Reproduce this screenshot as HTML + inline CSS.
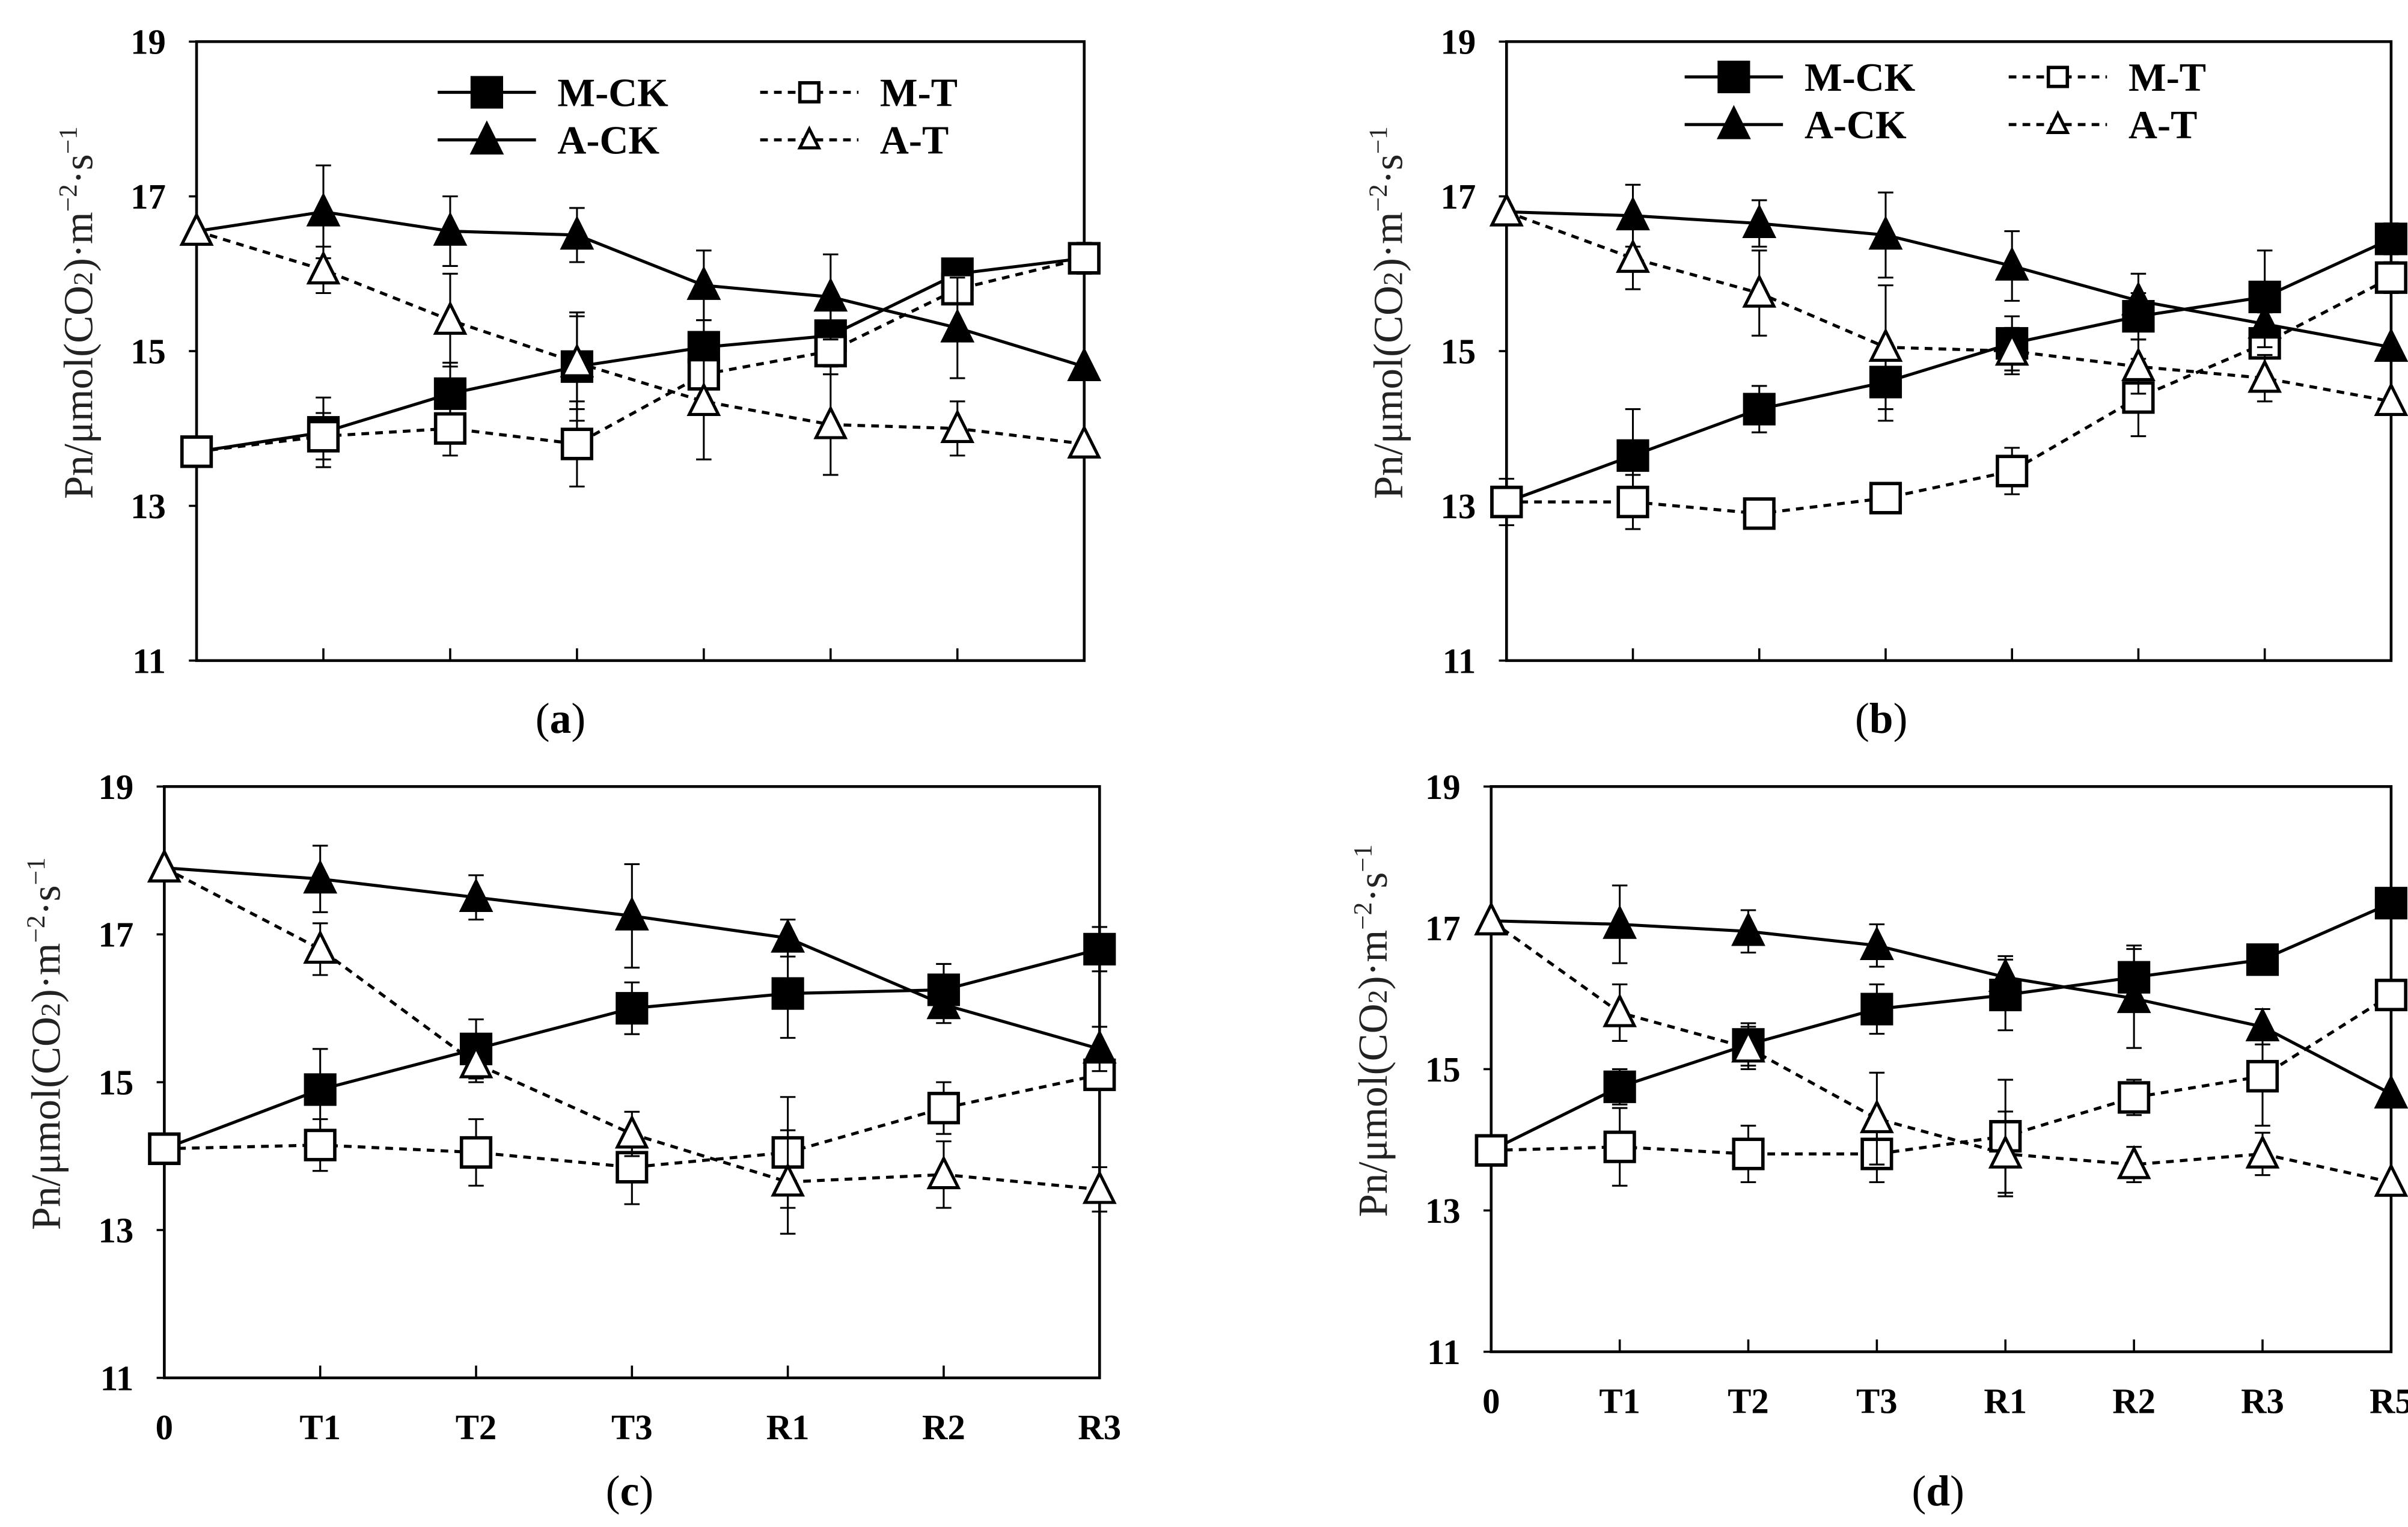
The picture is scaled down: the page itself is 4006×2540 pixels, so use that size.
<!DOCTYPE html>
<html><head><meta charset="utf-8">
<style>html,body{margin:0;padding:0;background:#fff}svg{display:block}</style>
</head><body>
<svg id="fig" xmlns="http://www.w3.org/2000/svg" width="4006" height="2540" viewBox="0 0 1568 994" font-family="'Liberation Serif', serif">
</svg>
<script>
const yTicks = [11, 13, 15, 17, 19];
const catsA = ["", "", "", "", "", "", "", ""];
const catsB = ["", "", "", "", "", "", "", ""];
const catsC = ["0", "T1", "T2", "T3", "R1", "R2", "R3"];
const catsD = ["0", "T1", "T2", "T3", "R1", "R2", "R3", "R5"];

const aMCK = [13.7, 13.95, 14.45, 14.8, 15.05, 15.2, 16.0, 16.2];
const aMT  = [13.7, 13.9, 14.0, 13.8, 14.7, 15.0, 15.8, 16.2];
const aACK = [16.55, 16.8, 16.55, 16.5, 15.85, 15.7, 15.3, 14.8];
const aAT  = [16.55, 16.05, 15.4, 14.85, 14.35, 14.05, 14.0, 13.8];
const aMCKe = [0, 0.45, 0.4, 0.7, 0.35, 0.4, 0.15, 0.2];
const aMTe  = [0, 0.3, 0.35, 0.55, 0.4, 0.3, 0.15, 0.15];
const aACKe = [0, 0.6, 0.45, 0.35, 0.45, 0.55, 0.65, 0];
const aATe  = [0, 0.3, 0.6, 0.6, 0.75, 0.65, 0.35, 0];

const bMCK = [13.05, 13.65, 14.25, 14.6, 15.1, 15.45, 15.7, 16.45];
const bMT  = [13.05, 13.05, 12.9, 13.1, 13.45, 14.4, 15.1, 15.95];
const bACK = [16.8, 16.75, 16.65, 16.5, 16.1, 15.65, 15.35, 15.05];
const bAT  = [16.8, 16.2, 15.75, 15.05, 15.0, 14.8, 14.65, 14.35];
const bMCKe = [0.3, 0.6, 0.3, 0.5, 0.35, 0.3, 0.6, 0.2];
const bMTe  = [0, 0.35, 0.15, 0.15, 0.3, 0.5, 0.4, 0.2];
const bACKe = [0, 0.4, 0.3, 0.55, 0.45, 0.35, 0.3, 0];
const bATe  = [0, 0.4, 0.55, 0.8, 0.3, 0.35, 0.3, 0];

const cMCK = [14.1, 14.9, 15.45, 16.0, 16.2, 16.25, 16.8];
const cMT  = [14.1, 14.15, 14.05, 13.85, 14.05, 14.65, 15.1];
const cACK = [17.9, 17.75, 17.5, 17.25, 16.95, 16.05, 15.45];
const cAT  = [17.9, 16.8, 15.25, 14.3, 13.65, 13.75, 13.55];
const cMCKe = [0, 0.55, 0.4, 0.35, 0.6, 0.35, 0.3];
const cMTe  = [0, 0.35, 0.45, 0.5, 0.75, 0.35, 0.2];
const cACKe = [0, 0.45, 0.3, 0.7, 0.25, 0.25, 0.3];
const cATe  = [0, 0.35, 0.25, 0.3, 0.7, 0.45, 0.3];

const dMCK = [13.85, 14.75, 15.35, 15.85, 16.05, 16.3, 16.55, 17.35];
const dMT  = [13.85, 13.9, 13.8, 13.8, 14.05, 14.6, 14.9, 16.05];
const dACK = [17.1, 17.05, 16.95, 16.75, 16.3, 16.0, 15.6, 14.65];
const dAT  = [17.1, 15.8, 15.3, 14.3, 13.8, 13.65, 13.8, 13.4];
const dMCKe = [0, 0.25, 0.3, 0.35, 0.5, 0.45, 0.1, 0.1];
const dMTe  = [0, 0.55, 0.4, 0.4, 0.8, 0.25, 0.7, 0.2];
const dACKe = [0, 0.55, 0.3, 0.3, 0.3, 0.7, 0.25, 0];
const dATe  = [0, 0.4, 0.3, 0.65, 0.6, 0.25, 0.3, 0];

const NS = "http://www.w3.org/2000/svg";
const svg = document.getElementById('fig');
function mk(tag, attrs, parent) {
  const e = document.createElementNS(NS, tag);
  for (const k in attrs) e.setAttribute(k, attrs[k]);
  (parent || svg).appendChild(e);
  return e;
}

function marker(g, type, x, y, sc) {
  const s = 9.5 * (sc || 1);
  let e;
  if (type === 'sqF' || type === 'sqO') {
    e = mk('rect', {x: x - s, y: y - s, width: 2 * s, height: 2 * s,
      fill: type === 'sqF' ? '#000' : '#fff', stroke: '#000', 'stroke-width': 2.2}, g);
  } else {
    e = mk('polygon', {points: `${x},${y - s - 1} ${x - s},${y + s - 1} ${x + s},${y + s - 1}`,
      fill: type === 'triF' ? '#000' : '#fff', stroke: '#000', 'stroke-width': 2}, g);
  }
  return e;
}

function panel(cfg) {
  const g = mk('g', {});
  
  
  const {L, R, T, B, cats} = cfg;
  const n = cats.length;
  const xs = i => L + (R - L) * i / (n - 1);
  const ys = v => B - (v - 11) / 8 * (B - T);

  const frame = mk('rect', {x: L, y: T, width: R - L, height: B - T, fill: 'none', stroke: '#000', 'stroke-width': 1.8}, g);
  
  

  yTicks.forEach(v => {
    mk('line', {x1: L - 5, x2: L, y1: ys(v), y2: ys(v), stroke: '#000', 'stroke-width': 1.4}, g);
    const t = mk('text', {x: L - 20, y: ys(v) + 8, 'font-size': 23, 'font-weight': 'bold', 'text-anchor': 'end'}, g);
    t.textContent = v;
    
    
  });
  cats.forEach((c, i) => {
    if (i > 0 && i < n - 1) mk('line', {x1: xs(i), x2: xs(i), y1: B, y2: B - 8, stroke: '#000', 'stroke-width': 1.4}, g);
    if (c) {
      const t = mk('text', {x: xs(i), y: B + 40, 'font-size': 23, 'font-weight': 'bold', 'text-anchor': 'middle'}, g);
      t.textContent = c;
      
      
    }
  });

  const yt = mk('text', {transform: `translate(${L - 68},${(T + B) / 2 - 25}) rotate(-90)`, 'font-size': 27, 'text-anchor': 'middle', fill: '#222'}, g);
  yt.innerHTML = 'Pn/μmol(CO<tspan font-size="18">2</tspan>)·m<tspan dy="-10" font-size="17">−2</tspan><tspan dy="10">·s</tspan><tspan dy="-10" font-size="17">−1</tspan>';
  
  

  const pl = mk('text', {x: cfg.lx, y: cfg.ly, 'font-size': 28, 'text-anchor': 'middle'}, g);
  pl.innerHTML = '(<tspan font-weight="bold">' + cfg.id + '</tspan>)';
  
  

  const series = [
    {name: 'm-ck', v: cfg.mck, e: cfg.mcke, m: 'sqF', dash: ''},
    {name: 'm-t', v: cfg.mt, e: cfg.mte, m: 'sqO', dash: '5,4'},
    {name: 'a-ck', v: cfg.ack, e: cfg.acke, m: 'triF', dash: ''},
    {name: 'a-t', v: cfg.at, e: cfg.ate, m: 'triO', dash: '5,4'}
  ];
  series.forEach(s => {
    const sg = mk('g', {}, g);
    
    
    s.v.forEach((v, i) => {
      if (s.e[i] > 0) {
        const x = xs(i), y1 = ys(v + s.e[i]), y2 = ys(v - s.e[i]);
        mk('line', {x1: x, x2: x, y1: y1, y2: y2, stroke: '#000', 'stroke-width': 1.2}, sg);
        mk('line', {x1: x - 5, x2: x + 5, y1: y1, y2: y1, stroke: '#000', 'stroke-width': 1.2}, sg);
        mk('line', {x1: x - 5, x2: x + 5, y1: y2, y2: y2, stroke: '#000', 'stroke-width': 1.2}, sg);
      }
    });
    const pts = s.v.map((v, i) => xs(i) + ',' + ys(v)).join(' ');
    const line = mk('polyline', {points: pts, fill: 'none', stroke: '#000', 'stroke-width': 2, 'stroke-dasharray': s.dash}, sg);
    
    
    s.v.forEach((v, i) => {
      const mkr = marker(sg, s.m, xs(i), ys(v));
      
      
    });
  });

  if (cfg.legend) {
    const lg = mk('g', {}, g);
    
    
    const items = [
      {t: 'M-CK', m: 'sqF', d: '', x: cfg.legend[0], y: cfg.legend[2]},
      {t: 'M-T', m: 'sqO', d: '5,4', x: cfg.legend[1], y: cfg.legend[2]},
      {t: 'A-CK', m: 'triF', d: '', x: cfg.legend[0], y: cfg.legend[2] + 31},
      {t: 'A-T', m: 'triO', d: '5,4', x: cfg.legend[1], y: cfg.legend[2] + 31}
    ];
    items.forEach(it => {
      const ig = mk('g', {}, lg);
      
      
      mk('line', {x1: it.x, x2: it.x + 64, y1: it.y, y2: it.y, stroke: '#000', 'stroke-width': 2, 'stroke-dasharray': it.d}, ig);
      marker(ig, it.m, it.x + 32, it.y, (it.m === 'sqO' || it.m === 'triO') ? 0.65 : 1);
      const t = mk('text', {x: it.x + 78, y: it.y + 9, 'font-size': 26, 'font-weight': 'bold'}, ig);
      t.textContent = it.t;
    });
  }
}

panel({id: 'a', L: 128, R: 706, T: 27, B: 430, cats: catsA, lx: 365, ly: 477,
  mck: aMCK, mt: aMT, ack: aACK, at: aAT, mcke: aMCKe, mte: aMTe, acke: aACKe, ate: aATe, legend: [285, 495, 60]});
panel({id: 'b', L: 981, R: 1557, T: 27, B: 430, cats: catsB, lx: 1225, ly: 477,
  mck: bMCK, mt: bMT, ack: bACK, at: bAT, mcke: bMCKe, mte: bMTe, acke: bACKe, ate: bATe, legend: [1097, 1308, 50]});
panel({id: 'c', L: 107, R: 716, T: 512, B: 897, cats: catsC, lx: 410, ly: 980,
  mck: cMCK, mt: cMT, ack: cACK, at: cAT, mcke: cMCKe, mte: cMTe, acke: cACKe, ate: cATe});
panel({id: 'd', L: 971, R: 1557, T: 512, B: 880, cats: catsD, lx: 1262, ly: 980,
  mck: dMCK, mt: dMT, ack: dACK, at: dAT, mcke: dMCKe, mte: dMTe, acke: dACKe, ate: dATe});
</script>
</body></html>
